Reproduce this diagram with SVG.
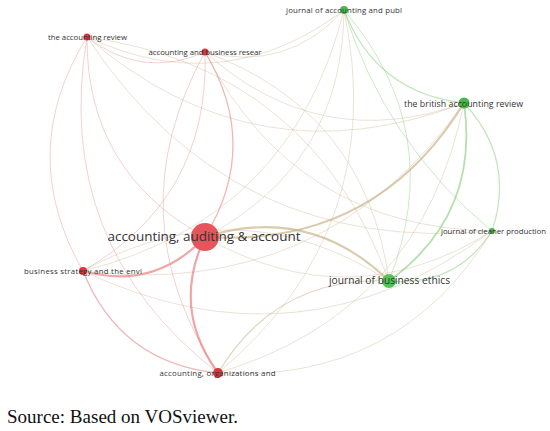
<svg xmlns="http://www.w3.org/2000/svg" width="550" height="431" viewBox="0 0 550 431">
<style>
  .e { fill: none; stroke-linecap: round; }
  .r { stroke: #e07a7a; stroke-opacity: 0.4; stroke-width: 0.9; }
  .g { stroke: #8fcf84; stroke-opacity: 0.5; stroke-width: 0.9; }
  .m { stroke: #c9b28e; stroke-opacity: 0.42; stroke-width: 0.9; }
  .r2 { stroke: #e26a6a; stroke-opacity: 0.6; stroke-width: 2.2; }
  .r1 { stroke: #e26f6f; stroke-opacity: 0.5; stroke-width: 1.3; }
  .m2 { stroke: #c2a878; stroke-opacity: 0.6; stroke-width: 2.1; }
  .m1 { stroke: #c6ae84; stroke-opacity: 0.5; stroke-width: 1.2; }
  .g2 { stroke: #84cc76; stroke-opacity: 0.6; stroke-width: 1.8; }
  .g1 { stroke: #8ccf80; stroke-opacity: 0.55; stroke-width: 1.2; }
  .nr { fill: #d9363e; }
  .ng { fill: #49b84a; }
  .lbl { font-family: "Open Sans", "Noto Sans", sans-serif; fill: #333333; text-anchor: middle; }
  .s { font-size: 7.8px; }
</style>
<rect width="550" height="431" fill="#ffffff"/>
<g id="connectors">
  <path class="e m" d="M389 281 Q311 68 87 37"/>
  <path class="e m" d="M389 281 Q239 184 83 271"/>
  <path class="e m2" d="M389 281 Q310 204 205 237"/>
  <path class="e m" d="M389 281 Q366 111 205 52"/>
  <path class="e m1" d="M389 281 Q276 276 218 373"/>
  <path class="e g1" d="M389 281 Q456 287 492 231"/>
  <path class="e g" d="M389 281 Q448 132 344 10"/>
  <path class="e g2" d="M389 281 Q480 215 464 103"/>
  <path class="e r" d="M87 37 Q15 153 83 271"/>
  <path class="e r" d="M87 37 Q86 172 205 237"/>
  <path class="e r" d="M87 37 Q142 80 205 52"/>
  <path class="e r" d="M87 37 Q52 244 218 373"/>
  <path class="e m" d="M87 37 Q231 256 492 231"/>
  <path class="e m" d="M87 37 Q224 101 344 10"/>
  <path class="e m" d="M87 37 Q256 183 464 103"/>
  <path class="e r2" d="M83 271 Q154 291 205 237"/>
  <path class="e r" d="M83 271 Q210 198 205 52"/>
  <path class="e r1" d="M83 271 Q120 363 218 373"/>
  <path class="e m" d="M83 271 Q300 374 492 231"/>
  <path class="e m" d="M83 271 Q292 219 344 10"/>
  <path class="e m" d="M83 271 Q324 301 464 103"/>
  <path class="e r1" d="M205 237 Q261 145 205 52"/>
  <path class="e r2" d="M205 237 Q171 309 218 373"/>
  <path class="e m" d="M205 237 Q350 320 492 231"/>
  <path class="e m" d="M205 237 Q343 165 344 10"/>
  <path class="e m2" d="M205 237 Q375 248 464 103"/>
  <path class="e r" d="M205 52 Q115 216 218 373"/>
  <path class="e m" d="M205 52 Q295 228 492 231"/>
  <path class="e m" d="M205 52 Q287 73 344 10"/>
  <path class="e m" d="M205 52 Q319 155 464 103"/>
  <path class="e m" d="M218 373 Q398 384 492 231"/>
  <path class="e m" d="M218 373 Q390 229 344 10"/>
  <path class="e m" d="M218 373 Q422 312 464 103"/>
  <path class="e g" d="M492 231 Q385 143 344 10"/>
  <path class="e g1" d="M492 231 Q516 159 464 103"/>
  <path class="e g1" d="M344 10 Q376 93 464 103"/>
</g>
<g id="n-tar">
  <circle class="nr" cx="87" cy="37" r="3.5"/>
  <text class="lbl s" x="87.5" y="39.5" textLength="79" lengthAdjust="spacing">the accounting review</text>
</g>
<g id="n-abr">
  <circle class="nr" cx="205" cy="52" r="3.5"/>
  <text class="lbl s" x="205" y="54.5" textLength="113" lengthAdjust="spacing">accounting and business resear</text>
</g>
<g id="n-japp">
  <circle class="ng" cx="344" cy="10" r="4"/>
  <text class="lbl s" x="344" y="12.5" textLength="116" lengthAdjust="spacing">journal of accounting and publ</text>
</g>
<g id="n-bar">
  <circle class="ng" cx="464" cy="103" r="5.5"/>
  <text class="lbl" x="463.5" y="106.5" font-size="8.8" textLength="119" lengthAdjust="spacing">the british accounting review</text>
</g>
<g id="n-aaaj">
  <circle cx="205" cy="237" r="14" fill="#e5565c"/>
  <text class="lbl" x="204" y="241" font-size="13.5" textLength="193" lengthAdjust="spacing">accounting, auditing &amp; account</text>
</g>
<g id="n-bse">
  <circle class="nr" cx="83" cy="271" r="4"/>
  <text class="lbl s" x="83" y="274" textLength="118" lengthAdjust="spacing">business strategy and the envi</text>
</g>
<g id="n-jbe">
  <circle cx="389" cy="281" r="7" fill="#55c255"/>
  <text class="lbl" x="389.5" y="284" font-size="10.2" textLength="121" lengthAdjust="spacing">journal of business ethics</text>
</g>
<g id="n-jcp">
  <circle class="ng" cx="492" cy="231" r="3"/>
  <text class="lbl s" x="493.5" y="234" textLength="105" lengthAdjust="spacing">journal of cleaner production</text>
</g>
<g id="n-aos">
  <circle class="nr" cx="218" cy="373" r="5"/>
  <text class="lbl s" x="217.5" y="375.5" textLength="116" lengthAdjust="spacing">accounting, organizations and</text>
</g>
<text x="7" y="423" font-family="'Liberation Serif', 'DejaVu Serif', serif" font-size="19" fill="#111111" textLength="231" lengthAdjust="spacing">Source: Based on VOSviewer.</text>
</svg>
